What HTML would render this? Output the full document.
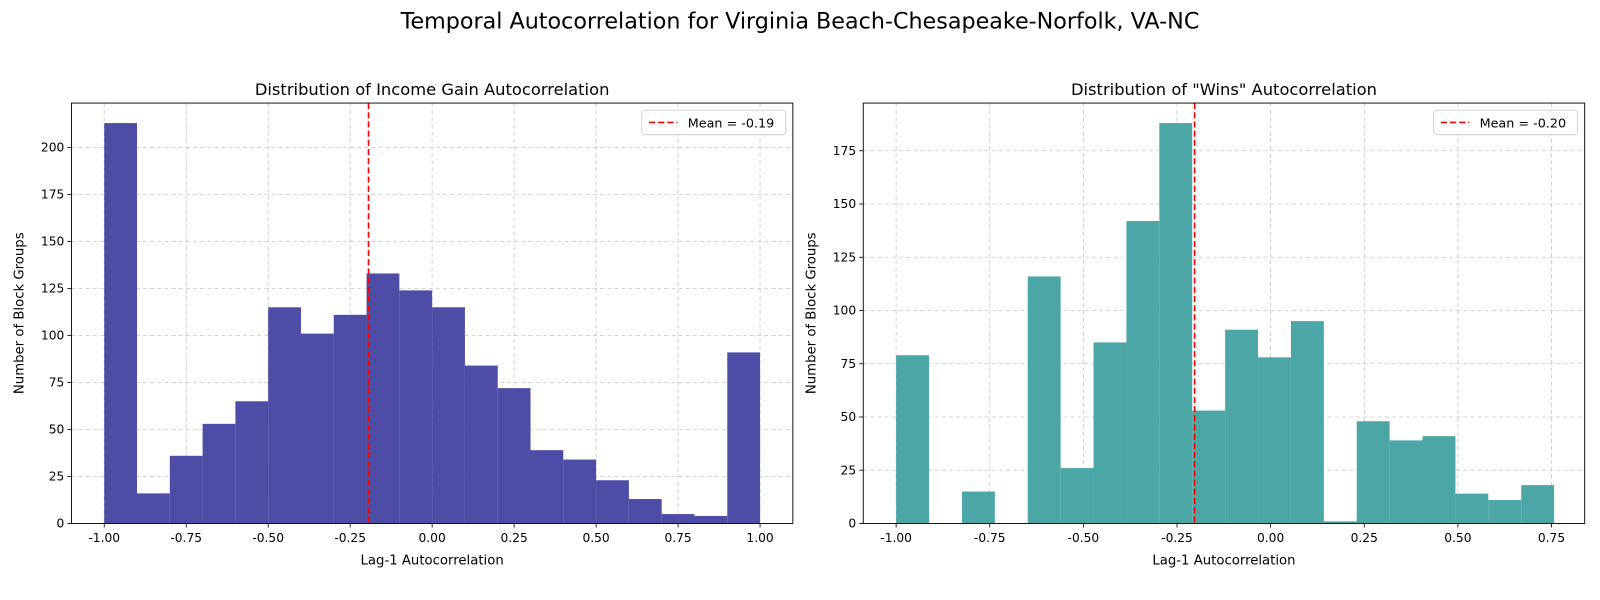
<!DOCTYPE html>
<html><head><meta charset="utf-8">
<style>
html,body{margin:0;padding:0;background:#fff;overflow:hidden;width:1600px;height:600px;font-family:"Liberation Sans","DejaVu Sans",sans-serif;}
svg{display:block;}
svg text{font-family:"DejaVu Sans","Liberation Sans",sans-serif;}
</style></head>
<body>
<svg width="1600" height="600" xmlns="http://www.w3.org/2000/svg">
<g id="chart" transform="scale(1.0204)">
<text x="784" y="28" font-size="21.8" text-anchor="middle" fill="#000">Temporal Autocorrelation for Virginia Beach-Chesapeake-Norfolk, VA-NC</text>
</g>
</svg>
<script>
const leftCounts=[213,16,36,53,65,115,101,111,133,124,115,84,72,39,34,23,13,5,4,91];
const leftRange=[-1,1];
const leftMean=-0.194;
const rightCounts=[79,0,15,0,116,26,85,142,188,53,91,78,95,1,48,39,41,14,11,18];
const rightRange=[-1,0.757];
const rightMean=-0.203;
const xTicks=[-1.00,-0.75,-0.50,-0.25,0.00,0.25,0.50,0.75,1.00];
const leftYTicks=[0,25,50,75,100,125,150,175,200];
const rightYTicks=[0,25,50,75,100,125,150,175];

const svg=document.getElementById('chart');
const NS='http://www.w3.org/2000/svg';
function mk(tag,attrs,parent){const e=document.createElementNS(NS,tag);for(const k in attrs)e.setAttribute(k,attrs[k]);(parent||svg).appendChild(e);return e;}

function panel(o){
  const g=mk('g',{});
  
  
  const {x0,x1,y0,y1}=o;
  const xmin=o.xlim[0],xmax=o.xlim[1];
  const ymax=Math.max(...o.counts)*1.05;
  const sx=v=>x0+(v-xmin)/(xmax-xmin)*(x1-x0);
  const sy=v=>y1-v/ymax*(y1-y0);
  o.xticks.forEach(t=>{if(t<xmin||t>xmax)return;
    const l=mk('line',{x1:sx(t),x2:sx(t),y1:y0,y2:y1,stroke:'#b0b0b0','stroke-width':0.8,'stroke-dasharray':'4,3',opacity:0.7},g);
    });
  o.yticks.forEach(t=>{
    const l=mk('line',{x1:x0,x2:x1,y1:sy(t),y2:sy(t),stroke:'#b0b0b0','stroke-width':0.8,'stroke-dasharray':'4,3',opacity:0.7},g);
    });
  const n=o.counts.length,w=(o.range[1]-o.range[0])/n;
  o.counts.forEach((c,i)=>{if(c<=0)return;
    const a=o.range[0]+i*w,b=a+w;
    const r=mk('rect',{x:sx(a),y:sy(c),width:sx(b)-sx(a),height:sy(0)-sy(c),fill:o.color},g);
    });
  const ml=mk('line',{x1:sx(o.mean),x2:sx(o.mean),y1:y0,y2:y1,stroke:'#ff0000','stroke-width':1.6,'stroke-dasharray':'6,3'},g);
  
  const fr=mk('rect',{x:x0,y:y0,width:x1-x0,height:y1-y0,fill:'none',stroke:'#000','stroke-width':0.9},g);
  
  o.xticks.forEach(t=>{if(t<xmin||t>xmax)return;
    mk('line',{x1:sx(t),x2:sx(t),y1:y1,y2:y1+4,stroke:'#000','stroke-width':0.8},g);
    const tx=mk('text',{x:sx(t),y:y1+18,'font-size':12,'text-anchor':'middle'},g);
    tx.textContent=t.toFixed(2);
    });
  o.yticks.forEach(t=>{
    mk('line',{x1:x0-4,x2:x0,y1:sy(t),y2:sy(t),stroke:'#000','stroke-width':0.8},g);
    const tx=mk('text',{x:x0-7,y:sy(t)+4,'font-size':12,'text-anchor':'end'},g);
    tx.textContent=t;
    });
  const tt=mk('text',{x:(x0+x1)/2,y:y0-8,'font-size':16,'text-anchor':'middle'},g);
  tt.textContent=o.title;
  const xl=mk('text',{x:(x0+x1)/2,y:y1+40,'font-size':13,'text-anchor':'middle'},g);
  xl.textContent='Lag-1 Autocorrelation';
  const yx=x0-47,yy=(y0+y1)/2;
  const yl=mk('text',{x:yx,y:yy,'font-size':13,'text-anchor':'middle',transform:`rotate(-90 ${yx} ${yy})`},g);
  yl.textContent='Number of Block Groups';
  const lg=mk('g',{},g);
  mk('rect',{x:x1-148,y:y0+7,width:141,height:24,rx:3,fill:'#fff',stroke:'#d0d0d0',opacity:0.9},lg);
  mk('line',{x1:x1-141,x2:x1-113,y1:y0+19,y2:y0+19,stroke:'#ff0000','stroke-width':1.6,'stroke-dasharray':'6,3'},lg);
  const lt=mk('text',{x:x1-103,y:y0+24,'font-size':12.5},lg);
  lt.textContent='Mean = '+o.mean.toFixed(2);
  
}
panel({name:'income-gain-histogram',x0:70,x1:777,y0:101,y1:513,xlim:[-1.1,1.1],counts:leftCounts,range:leftRange,mean:leftMean,color:'#4d4da6',xticks:xTicks,yticks:leftYTicks,title:'Distribution of Income Gain Autocorrelation'});
panel({name:'wins-histogram',x0:846,x1:1553,y0:101,y1:513,xlim:[-1.0878,0.8386],counts:rightCounts,range:rightRange,mean:rightMean,color:'#4da6a6',xticks:xTicks,yticks:rightYTicks,title:'Distribution of "Wins" Autocorrelation'});
</script>
</body></html>
